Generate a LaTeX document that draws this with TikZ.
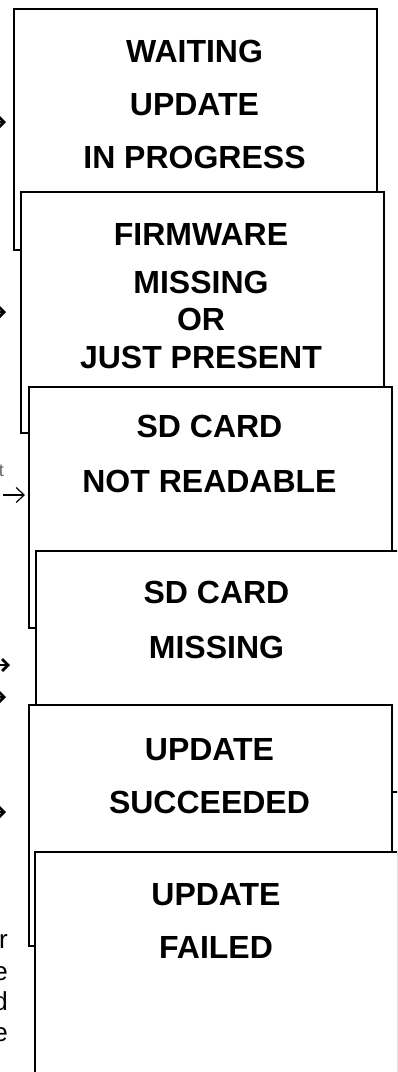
\documentclass[tikz,border=0pt]{standalone}
\usepackage{fontspec}
\setmainfont{Liberation Sans}
\usetikzlibrary{arrows.meta}
\begin{document}
\begin{tikzpicture}[x={(1pt,0)},y={(0,-1pt)},
  box/.style={draw=black,fill=white,line width=2.2pt,rectangle,inner sep=0pt,
    minimum width=363pt,minimum height=241pt,anchor=north west},
  lbl/.style={font=\fontsize{32}{37}\selectfont\bfseries,inner sep=0pt,anchor=base},
  frag/.style={font=\fontsize{26}{30}\selectfont,inner sep=0pt,anchor=base east,text=black},
  barb/.style={line width=2.8pt,-{Straight Barb[length=6pt,width=12pt,line width=2.8pt]}},
  thinbarb/.style={line width=1.2pt,-{Straight Barb[length=8pt,width=15pt,line width=1.2pt]}}]
\useasboundingbox (0,0) rectangle (397,1072);
\begin{scope}
\clip (0,0) rectangle (397,1072);
% boxes
\node[box] (b1) at (13,8) {};
\node[lbl] (b1a) at (194.5,62.5) {WAITING};
\node[lbl] (b1b) at (194.5,115) {UPDATE};
\node[lbl] (b1c) at (194.5,168) {IN PROGRESS};

\node[box] (b2) at (19.5,191) {};
\node[lbl] (b2a) at (201,245) {FIRMWARE};
\node[lbl] (b2b) at (201,293) {MISSING};
\node[lbl] (b2c) at (201,330) {OR};
\node[lbl] (b2d) at (201,368) {JUST PRESENT};

\node[box] (b3) at (28,386) {};
\node[lbl] (b3a) at (209.5,437) {SD CARD};
\node[lbl] (b3b) at (209.5,492) {NOT READABLE};

\node[box] (b4) at (35,550) {};
\node[lbl] (b4a) at (216.5,603) {SD CARD};
\node[lbl] (b4b) at (216.5,658) {MISSING};

\node[box] (b5) at (28,704) {};
\node[lbl] (b5a) at (209.5,760) {UPDATE};
\node[lbl] (b5b) at (209.5,813) {SUCCEEDED};

\node[box] (b6) at (34,851) {};
\node[lbl] (b6a) at (216,905) {UPDATE};
\node[lbl] (b6b) at (216,958) {FAILED};

% incoming arrows
\coordinate (s1) at (-30,122);
\coordinate (s2) at (-30,312);
\coordinate (s3) at (3,495);
\coordinate (s4) at (-30,665);
\coordinate (s5) at (-30,697);
\coordinate (s6) at (-30,812);
\draw[barb,shorten >=7pt] (s1) -- (s1 -| b1.west);
\draw[barb,shorten >=13.5pt] (s2) -- (s2 -| b2.west);
\draw[thinbarb,shorten >=3pt] (s3) -- (s3 -| b3.west);
\draw[barb,shorten >=25pt] (s4) -- (s4 -| b4.west);
\draw[barb,shorten >=29pt] (s5) -- (s5 -| b4.west);
\draw[barb,shorten >=22pt] (s6) -- (s6 -| b5.west);

% clipped text fragments at the left edge
\node[frag,font=\fontsize{18}{20}\selectfont,text=black!60] (f0) at (4,476) {t};
\node[frag] (f1) at (8,948) {r};
\node[frag] (f2) at (8,980) {e};
\node[frag] (f3) at (8,1010) {d};
\node[frag] (f4) at (8,1041) {e};
\end{scope}
\end{tikzpicture}
\end{document}
